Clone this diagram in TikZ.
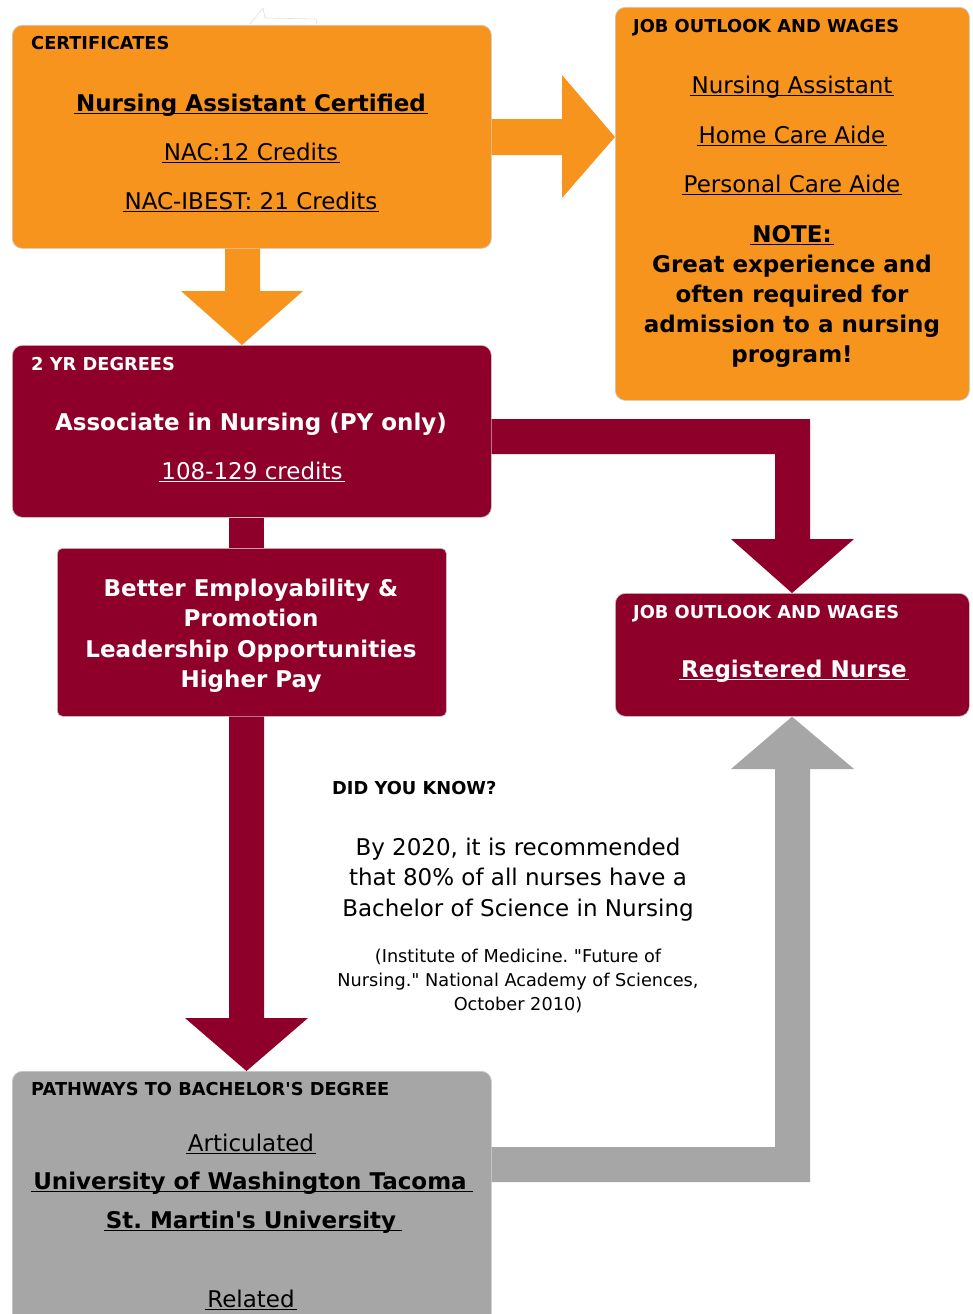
\documentclass[tikz,border=0pt]{standalone}
\usepackage{fontspec}
\setmainfont{DejaVu Sans}
\frenchspacing
\definecolor{cOrange}{HTML}{F7941D}
\definecolor{cRed}{HTML}{8E0029}
\definecolor{cGray}{HTML}{A6A6A6}
\definecolor{cEdge}{HTML}{C8C8C8}
\newcommand\ulx[2][0pt]{\setbox0\hbox{#2}\kern-2pt\rlap{\rule[-3pt]{\dimexpr\wd0+4pt+#1\relax}{1.3pt}}\kern2pt\box0}
\tikzset{
  box/.style={rounded corners=10pt, draw=cEdge, line width=0.7pt, anchor=north west, inner sep=0pt},
  obox/.style={box, fill=cOrange},
  rbox/.style={box, fill=cRed},
  gbox/.style={box, fill=cGray},
  ttl/.style={anchor=base west, inner sep=0pt, font=\bfseries\fontsize{17.8}{20}\selectfont},
  big/.style={anchor=base, inner sep=0pt, font=\fontsize{23}{30}\selectfont},
  bigb/.style={anchor=base, inner sep=0pt, font=\bfseries\fontsize{23}{30}\selectfont},
  small/.style={anchor=base, inner sep=0pt, font=\fontsize{17.7}{24}\selectfont},
}
\begin{document}
\frenchspacing
\begin{tikzpicture}[x=1pt,y=-1pt]
\useasboundingbox (0,0) rectangle (972,1314);
\fill[white] (0,0) rectangle (972,1314);
% faint artifact at top
\draw[gray!25, fill=white, line width=0.6pt] (250,24) -- (263,8) -- (265,18) -- (316,19) -- (317,24);

% ---- boxes ----
\node[obox, minimum width=479pt, minimum height=223pt] (cert) at (12,25) {};
\node[obox, minimum width=354pt, minimum height=393pt] (jobA) at (615,7) {};
\node[rbox, minimum width=479pt, minimum height=172pt] (deg) at (12,345) {};
\node[rbox, rounded corners=5pt, minimum width=389pt, minimum height=168pt] (better) at (57,548) {};
\node[rbox, minimum width=354pt, minimum height=123pt] (rn) at (615,593) {};
\begin{scope}
\clip (0,0) rectangle (972,1314);
\node[gbox, minimum width=479pt, minimum height=280pt] (path) at (12,1071) {};
\end{scope}

% ---- block arrows ----
% certificates -> job outlook (right)
\fill[cOrange] (cert.east |- 0,119) -- (562,119) -- (562,75) -- (jobA.west |- 0,137)
  -- (562,198) -- (562,155) -- (cert.east |- 0,155) -- cycle;
% certificates -> 2 yr degrees (down)
\fill[cOrange] (225,0 |- cert.south) -- (225,291) -- (181,291) -- (242,0 |- deg.north)
  -- (303,291) -- (260,291) -- (260,0 |- cert.south) -- cycle;
% 2 yr degrees -> RN (right then down)
\fill[cRed] (deg.east |- 0,419) -- (810,419) -- (810,539) -- (854,539) -- (792,0 |- rn.north)
  -- (731,539) -- (775,539) -- (775,454) -- (deg.east |- 0,454) -- cycle;
% 2 yr degrees -> better
\fill[cRed] (229,0 |- deg.south) rectangle (264,0 |- better.north);
% better -> pathways
\fill[cRed] (229,0 |- better.south) -- (229,1018) -- (185,1018) -- (246.5,0 |- path.north)
  -- (308,1018) -- (264,1018) -- (264,0 |- better.south) -- cycle;
% pathways -> RN (right then up)
\fill[cGray] (path.east |- 0,1182) -- (810,1182) -- (810,769) -- (854,769) -- (792,0 |- rn.south)
  -- (731,769) -- (775,769) -- (775,1147) -- (path.east |- 0,1147) -- cycle;

% ---- texts: certificates ----
\node[ttl] (certT) at (31,50) {CERTIFICATES};
\node[bigb] (certA) at (251,111) {\ulx{Nursing Assistant Certified}};
\node[big] (certB) at (251,160) {\ulx{NAC:12 Credits}};
\node[big] (certC) at (251,209) {\ulx{NAC-IBEST: 21 Credits}};

% ---- job outlook (orange) ----
\node[ttl] (jobT) at (633,33) {JOB OUTLOOK AND WAGES};
\node[big] (jobB) at (792,93) {\ulx{Nursing Assistant}};
\node[big] (jobC) at (792,143) {\ulx{Home Care Aide}};
\node[big] (jobD) at (792,192) {\ulx{Personal Care Aide}};
\node[bigb] (jobE) at (792,242) {\ulx{NOTE:}};
\node[bigb] (jobF1) at (792,272) {Great experience and};
\node[bigb] (jobF2) at (792,302) {often required for};
\node[bigb] (jobF3) at (792,332) {admission to a nursing};
\node[bigb] (jobF4) at (792,362) {program!};

% ---- 2 yr degrees ----
\node[ttl, text=white] (degT) at (31,370) {2 YR DEGREES};
\node[bigb, text=white] (degA) at (251,430) {Associate in Nursing (PY only)};
\node[big, text=white] (degB) at (252,479) {\ulx{108-129 credits}};

% ---- better ----
\node[bigb, text=white] (bet1) at (251,596) {Better Employability \&};
\node[bigb, text=white] (bet2) at (251,626) {Promotion};
\node[bigb, text=white] (bet3) at (251,657) {Leadership Opportunities};
\node[bigb, text=white] (bet4) at (251,687) {Higher Pay};

% ---- RN ----
\node[ttl, text=white] (rnT) at (633,618) {JOB OUTLOOK AND WAGES};
\node[bigb, text=white] (rnA) at (794,677) {\ulx{Registered Nurse}};

% ---- did you know ----
\node[ttl] (dykT) at (332,794) {DID YOU KNOW?};
\node[big] (dyk1) at (518,855) {By 2020, it is recommended};
\node[big] (dyk2) at (518,885) {that 80\% of all nurses have a};
\node[big] (dyk3) at (518,916) {Bachelor of Science in Nursing};
\node[small] (cit1) at (518,962) {(Institute of Medicine. \textquotedbl Future of};
\node[small] (cit2) at (518,986) {Nursing.\textquotedbl{} National Academy of Sciences,};
\node[small] (cit3) at (518,1010) {October 2010)};

% ---- pathways ----
\node[ttl] (pathT) at (31,1095) {PATHWAYS TO BACHELOR\textquotesingle S DEGREE};
\node[big] (pathA) at (251,1151) {\ulx{Articulated}};
\node[bigb] (pathB) at (250,1189) {\ulx[4pt]{University of Washington Tacoma}};
\node[bigb] (pathC) at (251,1228) {\ulx[4pt]{St. Martin\textquotesingle s University}};
\node[big] (pathD) at (251,1307) {\ulx{Related}};
\end{tikzpicture}
\end{document}
